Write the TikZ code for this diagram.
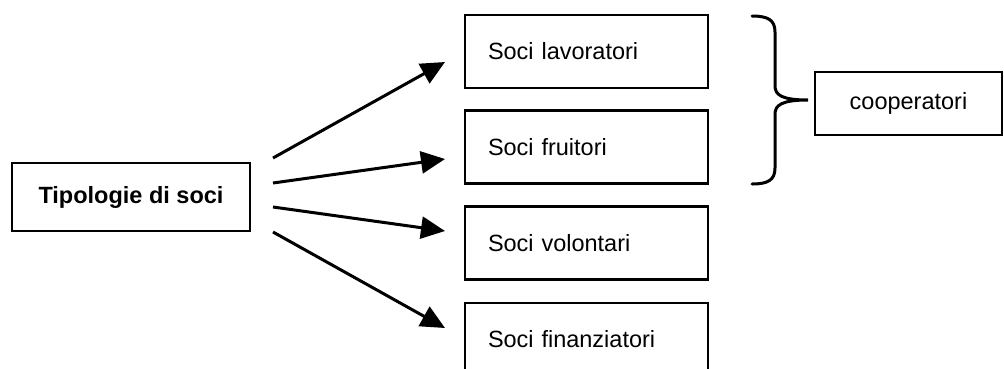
\documentclass[tikz,border=0pt]{standalone}
\usepackage{fontspec}
\setmainfont{Liberation Sans}
\usetikzlibrary{arrows.meta}
\begin{document}
\begin{tikzpicture}[x=1pt,y=-1pt,
  every node/.style={font=\fontsize{23.5}{28}\selectfont},
  box/.style={draw,line width=2.8pt,minimum width=243pt,minimum height=73pt,
    text width=197pt,inner xsep=23pt,align=left},
  arr/.style={line width=3pt,-{Triangle[length=24pt,width=22pt]}},
  brace/.style={line width=3pt,line cap=round}]
\useasboundingbox (0,0) rectangle (1004,368);
\node[draw,line width=2.8pt,minimum width=238pt,minimum height=68pt,font=\fontsize{23.5}{28}\selectfont\bfseries] (tip) at (131,197) {Tipologie di soci};
\node[box] (lav) at (586.5,51.5) {Soci lavoratori};
\node[box] (fru) at (586.5,147) {Soci fruitori};
\node[box] (vol) at (586.5,243) {Soci volontari};
\node[box] (fin) at (586.5,339.5) {Soci finanziatori};
\node[draw,line width=2.8pt,minimum width=187pt,minimum height=63pt] (coop) at (908.5,103.5) {cooperatori};
\coordinate (s1) at (273,158);
\coordinate (s2) at (273,183);
\coordinate (s3) at (273,207);
\coordinate (s4) at (273,232);
\coordinate (e1) at (445,62);
\coordinate (e2) at (445,159);
\coordinate (e3) at (445,231);
\coordinate (e4) at (445,328);
\draw[arr] (s1) -- (e1);
\draw[arr] (s2) -- (e2);
\draw[arr] (s3) -- (e3);
\draw[arr] (s4) -- (e4);
\coordinate (btop) at (752,16);
\coordinate (btip) at (808,100);
\coordinate (bbot) at (752,184);
\draw[brace] (btop) .. controls (768,16) and (775,20) .. (775,32) -- (775,86)
  .. controls (775,95) and (782,100) .. (btip)
  .. controls (782,100) and (775,105) .. (775,114) -- (775,168)
  .. controls (775,180) and (768,184) .. (bbot);
\end{tikzpicture}
\end{document}
